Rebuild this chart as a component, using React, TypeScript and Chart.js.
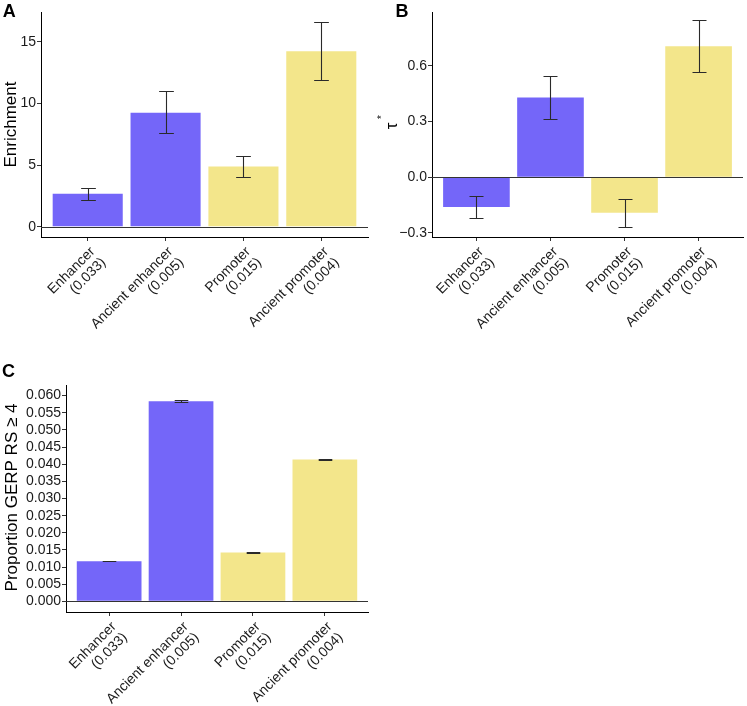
import React, { useEffect, useRef } from 'react';
import { Chart, registerables } from 'chart.js';

Chart.register(...registerables);

const FONT = "'Liberation Sans', Arial, Helvetica, sans-serif";

// ---------- data ----------
const categories: string[][] = [
  ['Enhancer', '(0.033)'],
  ['Ancient enhancer', '(0.005)'],
  ['Promoter', '(0.015)'],
  ['Ancient promoter', '(0.004)'],
];
const categoryPositions = [1, 2, 3, 4];
const barColors = ['#7466F9', '#7466F9', '#F3E68B', '#F3E68B'];

const enrichmentValues = [2.69, 9.25, 4.9, 14.25];
const enrichmentLower = [2.21, 7.58, 4.03, 11.94];
const enrichmentUpper = [3.15, 11.0, 5.78, 16.6];
const enrichmentTicks = [0, 5, 10, 15];

const tauValues = [-0.16, 0.429, -0.192, 0.706];
const tauLower = [-0.219, 0.316, -0.268, 0.569];
const tauUpper = [-0.1, 0.543, -0.115, 0.845];
const tauTicks = [-0.3, 0, 0.3, 0.6];

const gerpValues = [0.01169, 0.05836, 0.01423, 0.0414];
const gerpLower = [0.01164, 0.05805, 0.01418, 0.04115];
const gerpUpper = [0.01174, 0.05867, 0.01428, 0.04165];
const gerpTicks = [0, 0.005, 0.01, 0.015, 0.02, 0.025, 0.03, 0.035, 0.04, 0.045, 0.05, 0.055, 0.06];

// ---------- panel specs ----------
type Spec = {
  letter: string;
  letterX: number;
  letterY: number;
  values: number[];
  lower: number[];
  upper: number[];
  yMin: number;
  yMax: number;
  yTicks: number[];
  fmt: (v: number) => string;
  yWidth: number;
  xHeight: number;
  padTop: number;
  padRight: number;
  drawTitle: (ctx: CanvasRenderingContext2D, area: any) => void;
};

function drawRotatedTitle(ctx: CanvasRenderingContext2D, text: string, x: number, y: number) {
  ctx.save();
  ctx.translate(x, y);
  ctx.rotate(-Math.PI / 2);
  ctx.font = `17px ${FONT}`;
  ctx.fillStyle = '#000';
  ctx.textAlign = 'center';
  ctx.textBaseline = 'alphabetic';
  ctx.fillText(text, 0, 0);
  ctx.restore();
}

const specA: Spec = {
  letter: 'A', letterX: 2.7, letterY: 16.7,
  values: enrichmentValues, lower: enrichmentLower, upper: enrichmentUpper,
  yMin: -0.83, yMax: 17.43, yTicks: enrichmentTicks, fmt: (v) => String(v),
  yWidth: 41, xHeight: 118, padTop: 12, padRight: 4,
  drawTitle: (ctx, area) => drawRotatedTitle(ctx, 'Enrichment', 16.3, (area.top + area.bottom) / 2),
};

const specB: Spec = {
  letter: 'B', letterX: 23.5, letterY: 16.7,
  values: tauValues, lower: tauLower, upper: tauUpper,
  yMin: -0.322, yMax: 0.89, yTicks: tauTicks,
  fmt: (v) => (v < 0 ? '\u2212' + Math.abs(v).toFixed(1) : v.toFixed(1)),
  yWidth: 60, xHeight: 118, padTop: 12, padRight: 4,
  drawTitle: (ctx, area) => {
    const cy = (area.top + area.bottom) / 2 + 1.5;
    ctx.save();
    ctx.translate(25, cy);
    ctx.rotate(-Math.PI / 2);
    ctx.fillStyle = '#000';
    ctx.textAlign = 'center';
    ctx.textBaseline = 'alphabetic';
    ctx.font = `17px ${FONT}`;
    ctx.fillText('\u03C4', 0, 0);
    ctx.font = `10px ${FONT}`;
    ctx.fillText('*', 9, -12);
    ctx.restore();
  },
};

const specC: Spec = {
  letter: 'C', letterX: 2, letterY: 22,
  values: gerpValues, lower: gerpLower, upper: gerpUpper,
  yMin: -0.0031, yMax: 0.0631, yTicks: gerpTicks, fmt: (v) => v.toFixed(3),
  yWidth: 66, xHeight: 94, padTop: 30, padRight: 4,
  drawTitle: (ctx, area) => drawRotatedTitle(ctx, 'Proportion GERP RS \u2265 4', 16.5, (area.top + area.bottom) / 2 - 1),
};

function extrasPlugin(spec: Spec) {
  return {
    id: 'panelExtras',
    afterDatasetsDraw(chart: any) {
      const ctx: CanvasRenderingContext2D = chart.ctx;
      const ys = chart.scales.y;
      const area = chart.chartArea;
      ctx.save();
      // zero reference line
      const y0 = Math.round(ys.getPixelForValue(0)) + 0.5;
      ctx.strokeStyle = '#333';
      ctx.lineWidth = 1;
      ctx.beginPath();
      ctx.moveTo(area.left, y0);
      ctx.lineTo(area.right, y0);
      ctx.stroke();
      // error bars
      const meta = chart.getDatasetMeta(0);
      ctx.strokeStyle = '#2a2a2a';
      ctx.lineWidth = 1.1;
      meta.data.forEach((bar: any, i: number) => {
        const p = bar.getProps(['x', 'width'], true);
        const half = p.width * 0.105;
        const x = Math.round(p.x) + 0.5;
        const yl = Math.round(ys.getPixelForValue(spec.lower[i])) + 0.5;
        const yu = Math.round(ys.getPixelForValue(spec.upper[i])) + 0.5;
        ctx.beginPath();
        ctx.moveTo(x, yl);
        ctx.lineTo(x, yu);
        ctx.moveTo(x - half, yl);
        ctx.lineTo(x + half, yl);
        ctx.moveTo(x - half, yu);
        ctx.lineTo(x + half, yu);
        ctx.stroke();
      });
      ctx.restore();
    },
    afterDraw(chart: any) {
      const ctx: CanvasRenderingContext2D = chart.ctx;
      ctx.save();
      ctx.fillStyle = '#000';
      ctx.font = `bold 18px ${FONT}`;
      ctx.textAlign = 'left';
      ctx.textBaseline = 'alphabetic';
      ctx.fillText(spec.letter, spec.letterX, spec.letterY);
      ctx.restore();
      spec.drawTitle(ctx, chart.chartArea);
    },
  };
}

function makeChart(canvas: HTMLCanvasElement, spec: Spec) {
  const gridOpts = { display: true, drawOnChartArea: false, drawTicks: true, tickLength: 4, color: '#333', lineWidth: 1, offset: false };
  const borderOpts = { display: true, color: '#000', width: 1 };
  return new Chart(canvas, {
    type: 'bar',
    data: {
      datasets: [
        {
          data: categoryPositions.map((x, i) => ({ x, y: spec.values[i] })),
          backgroundColor: barColors,
          borderWidth: 0,
          barPercentage: 0.9,
          categoryPercentage: 1,
        },
      ],
    },
    options: {
      responsive: false,
      animation: false,
      events: [],
      layout: { padding: { top: spec.padTop, right: spec.padRight, left: 0, bottom: 0 } },
      plugins: { legend: { display: false }, tooltip: { enabled: false } },
      scales: {
        x: {
          type: 'linear',
          offset: false,
          min: 0.4,
          max: 4.6,
          afterBuildTicks: (s: any) => {
            s.ticks = categoryPositions.map((v) => ({ value: v }));
          },
          afterFit: (s: any) => {
            s.height = spec.xHeight;
          },
          ticks: {
            autoSkip: false,
            maxRotation: 45,
            minRotation: 45,
            padding: 3,
            labelOffset: 5,
            color: '#1a1a1a',
            font: { family: FONT, size: 14, lineHeight: 1.1 },
            callback: (v: any) => categories[Math.round(Number(v)) - 1],
          },
          grid: gridOpts,
          border: borderOpts,
        },
        y: {
          type: 'linear',
          min: spec.yMin,
          max: spec.yMax,
          afterBuildTicks: (s: any) => {
            s.ticks = spec.yTicks.map((v) => ({ value: v }));
          },
          afterFit: (s: any) => {
            s.width = spec.yWidth;
          },
          ticks: {
            autoSkip: false,
            padding: 1,
            color: '#1a1a1a',
            font: { family: FONT, size: 14 },
            callback: (v: any) => spec.fmt(Number(v)),
          },
          grid: gridOpts,
          border: borderOpts,
        },
      },
    } as any,
    plugins: [extrasPlugin(spec)],
  });
}

function Panel({ spec, left, top, width, height }: { spec: Spec; left: number; top: number; width: number; height: number }) {
  const ref = useRef<HTMLCanvasElement>(null);
  useEffect(() => {
    const chart = makeChart(ref.current as HTMLCanvasElement, spec);
    return () => chart.destroy();
  }, []);
  return (
    <canvas
      ref={ref}
      width={width}
      height={height}
      style={{ position: 'absolute', left, top, width, height, display: 'block' }}
    />
  );
}

export default function App() {
  return (
    <div style={{ position: 'absolute', left: 0, top: 0, width: 747, height: 706, overflow: 'hidden', background: '#fff' }}>
      <Panel spec={specA} left={0} top={0} width={372} height={355} />
      <Panel spec={specB} left={372} top={0} width={375} height={355} />
      <Panel spec={specC} left={0} top={355} width={372} height={351} />
    </div>
  );
}
